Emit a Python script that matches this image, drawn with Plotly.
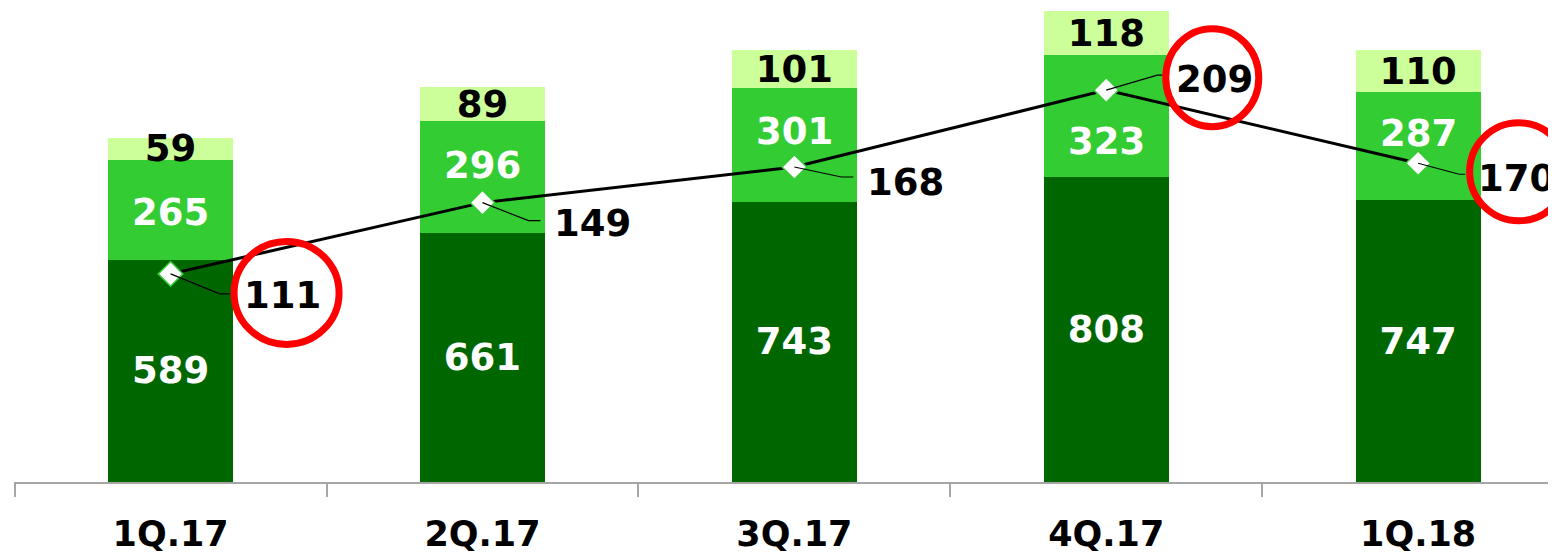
import plotly.graph_objects as go

# ---- data ----
categories = ["1Q.17", "2Q.17", "3Q.17", "4Q.17", "1Q.18"]
dark_values = [589, 661, 743, 808, 747]
mid_values = [265, 296, 301, 323, 287]
light_values = [59, 89, 101, 118, 110]
line_values = [111, 149, 168, 209, 170]
highlighted = [0, 3, 4]

# ---- styles / label placement (pixel offsets; +down unless noted) ----
mid_label_shift = [-3, 11, 13, -25, 13]          # +up
label_dx = [112, 110, 111, 108, 98]
label_dy = [22, 21, 15, -11, 15]
leader_pts = [
    [(49, 20), (59, 20)],
    [(46, 18), (58, 18)],
    [(47, 10), (59, 10)],
    [(51, -15), (56, -15)],
    [(41, 11), (47, 11)],
]
circle_off = {0: (116, 19, 52.5, 51.5), 3: (106, -12.5, 46.5, 49), 4: (100.5, 8.5, 49, 49)}

DARK = "#006600"
MID = "#33CC33"
LIGHT = "#CCFF99"
FONT = "DejaVu Sans"
LABEL_SIZE = 37

x = list(range(len(categories)))

fig = go.Figure()

def add_bar(vals, color, name, tcolor=None):
    if tcolor is not None:
        kw = dict(
            text=[str(v) for v in vals],
            textposition="inside",
            insidetextanchor="middle",
            textangle=0,
            constraintext="none",
            textfont=dict(family=FONT, size=LABEL_SIZE, color=tcolor, weight=700),
        )
    else:
        kw = dict(textposition="none")
    fig.add_trace(go.Bar(
        x=x, y=vals, name=name,
        marker=dict(color=color, line=dict(width=0)),
        width=0.4, hoverinfo="skip", **kw,
    ))

add_bar(dark_values, DARK, "Segment 1", "white")
add_bar(mid_values, MID, "Segment 2")
add_bar(light_values, LIGHT, "Segment 3", "black")

fig.add_trace(go.Scatter(
    x=x, y=line_values, yaxis="y2", mode="lines+markers",
    line=dict(color="black", width=3),
    marker=dict(symbol="diamond", size=19, color="white",
                line=dict(color=MID, width=1.5)),
    hoverinfo="skip", name="Line",
))

shapes = []
annotations = []
for i, (d, m) in enumerate(zip(dark_values, mid_values)):
    annotations.append(dict(
        x=i, y=d + m / 2, xref="x", yref="y", text=str(m), showarrow=False,
        yshift=mid_label_shift[i],
        font=dict(family=FONT, size=LABEL_SIZE, color="white", weight=700),
    ))
for i, v in enumerate(line_values):
    path = "M0,0" + "".join(f" L{px},{-py}" for px, py in leader_pts[i])
    shapes.append(dict(
        type="path", xref="x", yref="y2",
        xsizemode="pixel", ysizemode="pixel",
        xanchor=i, yanchor=v, path=path,
        line=dict(color="black", width=1.2), layer="above",
    ))
    annotations.append(dict(
        x=i, y=v, xref="x", yref="y2", text=str(v), showarrow=False,
        xshift=label_dx[i], yshift=-label_dy[i],
        font=dict(family=FONT, size=LABEL_SIZE, color="black", weight=700),
    ))
for i in highlighted:
    cx, cy, rx, ry = circle_off[i]
    shapes.append(dict(
        type="circle", xref="x", yref="y2",
        xsizemode="pixel", ysizemode="pixel",
        xanchor=i, yanchor=line_values[i],
        x0=cx - rx, x1=cx + rx, y0=-cy - ry, y1=-cy + ry,
        line=dict(color="#FF0000", width=7), layer="above",
    ))

fig.update_layout(
    width=1548, height=547, autosize=False,
    margin=dict(l=6, r=0, t=0, b=73, pad=0),
    paper_bgcolor="white", plot_bgcolor="white",
    barmode="stack", showlegend=False,
    shapes=shapes, annotations=annotations,
    xaxis=dict(
        range=[-0.502, 4.442],
        tickmode="array", tickvals=x, ticktext=categories,
        ticks="", showgrid=False, zeroline=False,
        showline=True, linecolor="#A6A6A6", linewidth=2,
        tickfont=dict(family=FONT, size=35, color="black", weight=700),
        ticklabelstandoff=20,
        minor=dict(tickmode="array", tickvals=[i - 0.5 for i in range(len(categories) + 1)],
                   ticks="outside", ticklen=13, tickwidth=1.5, tickcolor="#A6A6A6",
                   showgrid=False),
    ),
    yaxis=dict(range=[0, 1256.3], visible=False, showgrid=False, zeroline=False),
    yaxis2=dict(range=[0, 252.8], overlaying="y", visible=False, showgrid=False, zeroline=False),
)

fig.write_html("out.html")
